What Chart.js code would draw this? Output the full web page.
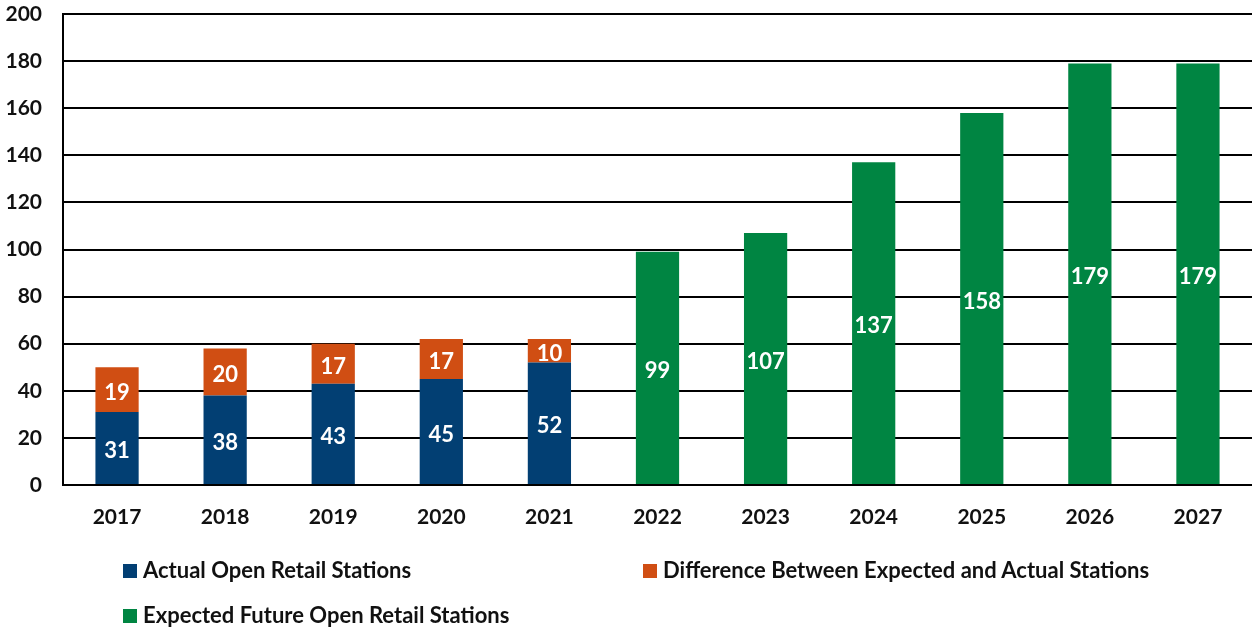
<!DOCTYPE html>
<html>
<head>
<meta charset="utf-8">
<script src="https://cdn.jsdelivr.net/npm/chart.js@4"></script>
<style>
  body { margin: 0; background: #fff; font-family: Lato, 'Open Sans', sans-serif; }
  #wrap { position: relative; width: 1252px; height: 628px; }
  .leg { position: absolute; font-weight: bold; font-size: 22px; color: #111; white-space: nowrap; }
  .leg span { display: inline-block; width: 14px; height: 14px; margin-right: 6px; vertical-align: 0px; }
</style>
</head>
<body>
<div id="wrap">
  <canvas id="chart" width="1252" height="628"></canvas>
  <div class="leg" style="left:123px; top:556px"><span style="background:#023f73"></span>Actual Open Retail Stations</div>
  <div class="leg" style="left:643px; top:556px"><span style="background:#d04e13"></span>Difference Between Expected and Actual Stations</div>
  <div class="leg" style="left:123px; top:601px"><span style="background:#008542"></span>Expected Future Open Retail Stations</div>
</div>
<script>
const years = ['2017', '2018', '2019', '2020', '2021', '2022', '2023', '2024', '2025', '2026', '2027'];
const actual = [31, 38, 43, 45, 52, null, null, null, null, null, null];
const difference = [19, 20, 17, 17, 10, null, null, null, null, null, null];
const expected = [null, null, null, null, null, 99, 107, 137, 158, 179, 179];

// white numbers in the middle of each bar segment
const barLabels = {
    id: 'barLabels',
    afterDatasetsDraw(chart) {
        const ctx = chart.ctx;
        ctx.save();
        ctx.font = 'bold 22px Lato, "Open Sans", sans-serif';
        ctx.fillStyle = '#fff';
        ctx.textAlign = 'center';
        ctx.textBaseline = 'middle';
        chart.data.datasets.forEach((ds, i) => {
            chart.getDatasetMeta(i).data.forEach((bar, j) => {
                const v = ds.data[j];
                if (v == null) return;
                ctx.fillText(v, bar.x, (bar.y + bar.base) / 2 + 3);
            });
        });
        ctx.restore();
    }
};

new Chart(document.getElementById('chart'), {
    type: 'bar',
    data: {
        labels: years,
        datasets: [
            { label: 'Actual Open Retail Stations', data: actual, backgroundColor: '#023f73' },
            { label: 'Difference Between Expected and Actual Stations', data: difference, backgroundColor: '#d04e13' },
            { label: 'Expected Future Open Retail Stations', data: expected, backgroundColor: '#008542' }
        ]
    },
    options: {
        responsive: false,
        animation: false,
        layout: { padding: { top: 14, right: 0, bottom: 83, left: 0 } },
        datasets: { bar: { barPercentage: 0.4, categoryPercentage: 1 } },
        plugins: { legend: { display: false }, tooltip: { enabled: false } },
        scales: {
            x: {
                stacked: true,
                grid: { display: false, drawTicks: false },
                border: { color: '#000', width: 2 },
                ticks: { color: '#111', padding: 20, font: { size: 21, weight: 'bold', family: 'Lato' } },
                afterFit: s => { s.height = 60; s.paddingLeft = 0; s.paddingRight = 0; }
            },
            y: {
                stacked: true,
                min: 0, max: 200,
                ticks: { stepSize: 20, color: '#111', padding: 21, font: { size: 21, weight: 'bold', family: 'Lato' } },
                grid: { color: '#000', lineWidth: 2, drawTicks: false },
                border: { color: '#000', width: 2 },
                afterFit: s => { s.width = 63; s.paddingTop = 0; s.paddingBottom = 0; }
            }
        }
    },
    plugins: [barLabels]
});
</script>
</body>
</html>
